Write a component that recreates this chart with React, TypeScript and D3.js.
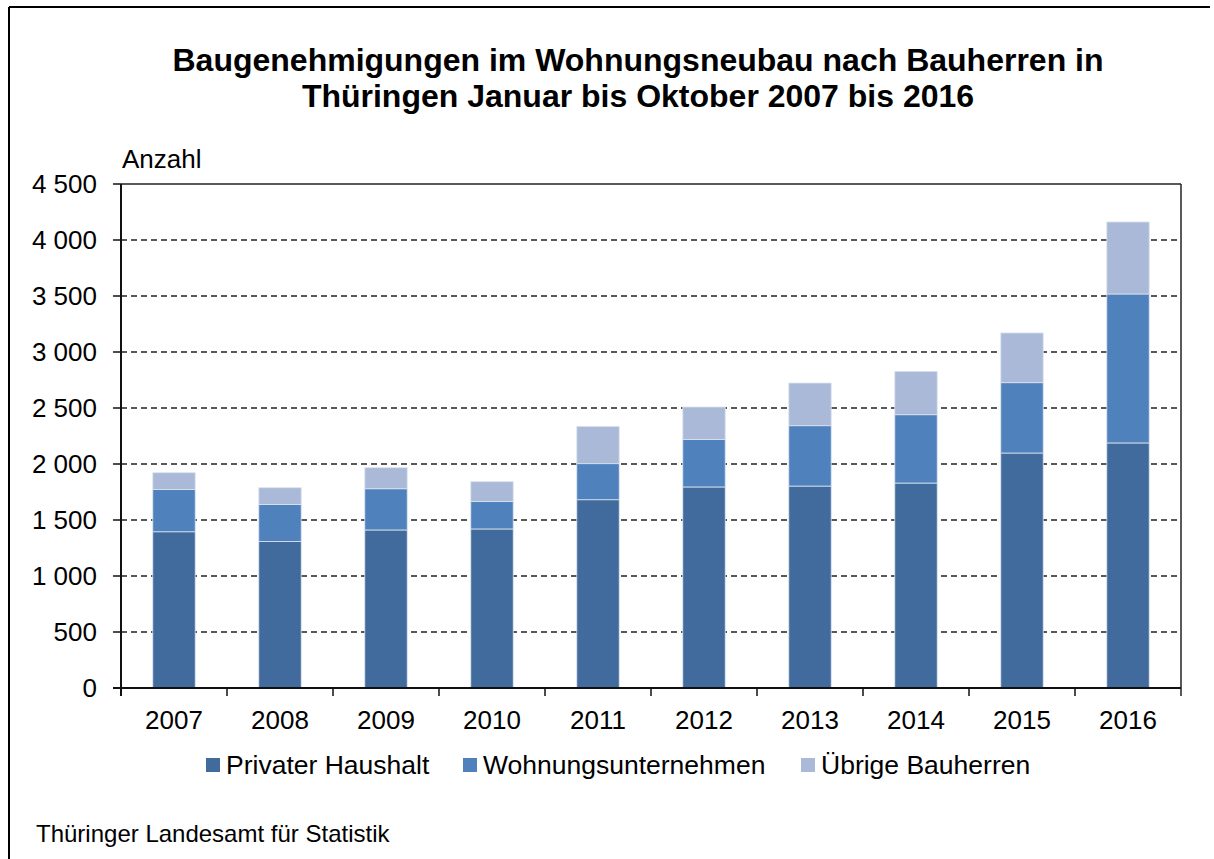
import React from "react";
import * as d3 from "d3";

const years = ["2007", "2008", "2009", "2010", "2011", "2012", "2013", "2014", "2015", "2016"];
const privat = [1395, 1309, 1411, 1420, 1681, 1795, 1803, 1830, 2098, 2188];
const wohnung = [378, 330, 368, 246, 322, 425, 539, 610, 628, 1330];
const uebrige = [149, 149, 188, 176, 333, 289, 381, 387, 444, 643];
const seriesNames = ["Privater Haushalt", "Wohnungsunternehmen", "Übrige Bauherren"];
const seriesColors = ["#416b9c", "#4f81bd", "#aab9d7"];
const yTicks = [0, 500, 1000, 1500, 2000, 2500, 3000, 3500, 4000, 4500];

const W = 1214;
const H = 859;
const left = 121, right = 1181, top = 184, bottom = 688;
const FONT = "'Liberation Sans', Arial, sans-serif";

export default function App() {
  const x = d3.scaleBand<string>().domain(years).range([left, right]).paddingInner(0.6).paddingOuter(0.3);
  const y = d3.scaleLinear().domain([0, 4500]).range([bottom, top]);
  const fmt = d3.formatLocale({ decimal: ",", thousands: " ", grouping: [3], currency: ["", "€"] }).format(",d");

  const rows = years.map((yr, i) => ({ year: yr, p: privat[i], w: wohnung[i], u: uebrige[i] }));
  const stack = d3.stack<any>().keys(["p", "w", "u"])(rows);
  const step = x.step();

  const legendX = [206, 463, 801];

  return (
    <svg width={W} height={H} style={{ position: "absolute", left: 0, top: 0, background: "#fff" }} fontFamily={FONT}>
      <rect x={0} y={0} width={W} height={H} fill="#fff" />
      {/* frame */}
      <line x1={9} x2={1210} y1={7} y2={7} stroke="#000" strokeWidth={2} />
      <line x1={9} x2={9} y1={7} y2={H} stroke="#000" strokeWidth={2} />

      {/* title */}
      <text x={638} y={71} textAnchor="middle" fontWeight="bold" fontSize={32}>
        Baugenehmigungen im Wohnungsneubau nach Bauherren in
      </text>
      <text x={638} y={107} textAnchor="middle" fontWeight="bold" fontSize={32}>
        Thüringen Januar bis Oktober 2007 bis 2016
      </text>

      <text x={122} y={168} fontSize={26}>Anzahl</text>

      {/* gridlines */}
      {yTicks.filter((t) => t > 0 && t < 4500).map((t) => (
        <line key={t} x1={left} x2={right} y1={y(t)} y2={y(t)} stroke="#222" strokeWidth={1.5} strokeDasharray="6,4" />
      ))}

      {/* bars */}
      {stack.map((s, si) => (
        <g key={si} fill={seriesColors[si]}>
          {s.map((d: any, i: number) => (
            <rect
              key={i}
              x={x(years[i])}
              y={y(d[1])}
              width={x.bandwidth()}
              height={y(d[0]) - y(d[1])}
              stroke="#dbe3ef"
              strokeWidth={0.8}
            />
          ))}
        </g>
      ))}

      {/* plot frame top/right */}
      <line x1={left} x2={right} y1={top} y2={top} stroke="#222" strokeWidth={1.5} />
      <line x1={right} x2={right} y1={top} y2={bottom + 8} stroke="#222" strokeWidth={1.5} />

      {/* y axis */}
      <line x1={left} x2={left} y1={top} y2={bottom + 8} stroke="#111" strokeWidth={2} />
      {yTicks.map((t) => (
        <g key={t}>
          <line x1={left - 8} x2={left} y1={y(t)} y2={y(t)} stroke="#111" strokeWidth={1.5} />
          <text x={97} y={y(t) + 9} textAnchor="end" fontSize={26}>
            {fmt(t)}
          </text>
        </g>
      ))}

      {/* x axis */}
      <line x1={left - 8} x2={right} y1={bottom} y2={bottom} stroke="#111" strokeWidth={2} />
      {years.map((yr, i) => (
        <line key={yr} x1={left + i * step} x2={left + i * step} y1={bottom} y2={bottom + 8} stroke="#111" strokeWidth={1.5} />
      ))}
      {years.map((yr) => (
        <text key={yr} x={(x(yr) as number) + x.bandwidth() / 2} y={729} textAnchor="middle" fontSize={26}>
          {yr}
        </text>
      ))}

      {/* legend */}
      {seriesNames.map((n, i) => (
        <g key={n}>
          <rect x={legendX[i]} y={758} width={14} height={14} fill={seriesColors[i]} />
          <text x={legendX[i] + 20} y={774} fontSize={26.5}>{n}</text>
        </g>
      ))}

      <text x={36} y={842} fontSize={24}>Thüringer Landesamt für Statistik</text>
    </svg>
  );
}
